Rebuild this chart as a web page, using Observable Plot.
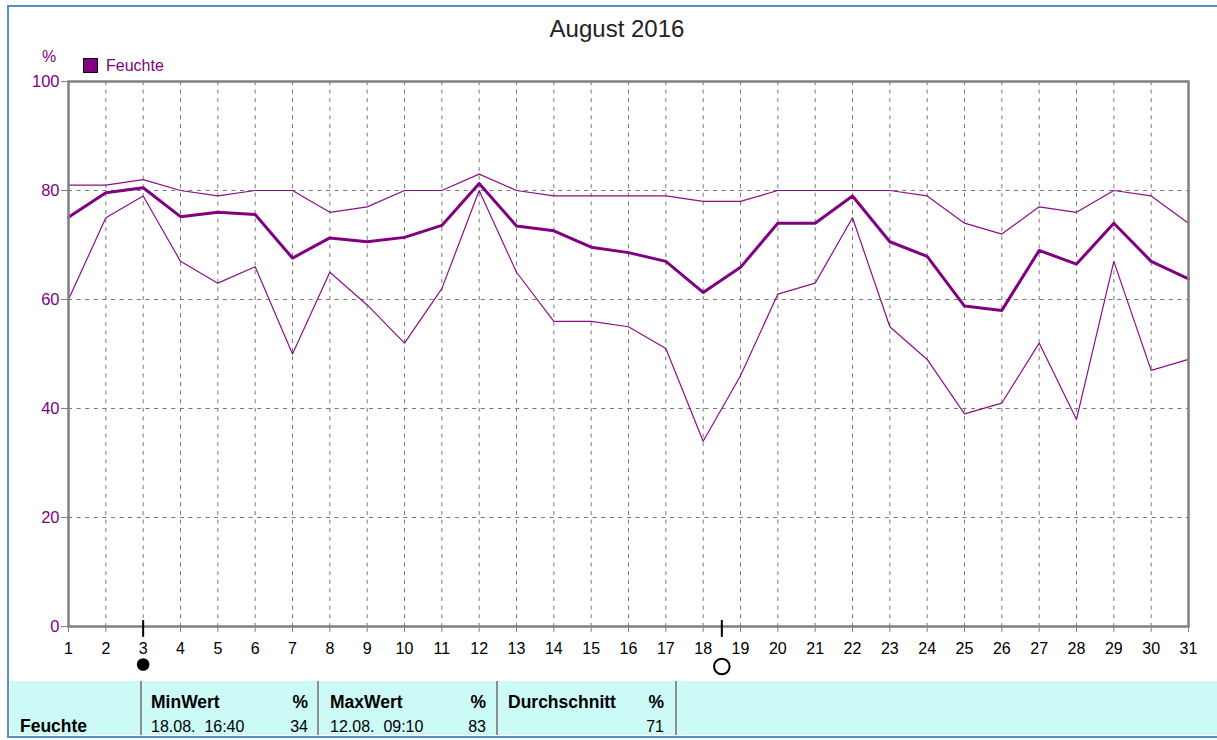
<!DOCTYPE html>
<html><head><meta charset="utf-8">
<script src="https://cdn.jsdelivr.net/npm/d3@7"></script>
<script src="https://cdn.jsdelivr.net/npm/@observablehq/plot@0.6"></script>
<style>
html,body{margin:0;padding:0;background:#fff;overflow:hidden;}
body{width:1217px;height:740px;position:relative;font-family:"Liberation Sans",Arial,sans-serif;}
.abs{position:absolute;white-space:pre;line-height:1;}
#chart{position:absolute;left:0;top:0;}
#band{position:absolute;left:10px;top:681px;width:1220px;height:54px;background:#ccfaf7;}
.sep{position:absolute;top:681px;height:54px;width:2px;background:#8e8e8e;}
#border{position:absolute;left:7px;top:5px;width:1300px;height:733px;border:2px solid #5a8cc8;box-sizing:border-box;pointer-events:none;}
</style></head><body>
<div id="band"></div>
<div id="chart"></div>
<div id="border"></div>
<script>
// ---- data ----
const days = [1,2,3,4,5,6,7,8,9,10,11,12,13,14,15,16,17,18,19,20,21,22,23,24,25,26,27,28,29,30,31];
const maxVals = [81,81,82,80,79,80,80,76,77,80,80,83,80,79,79,79,79,78,78,80,80,80,80,79,74,72,77,76,80,79,74];
const avgVals = [75.1,79.6,80.5,75.2,76.0,75.6,67.6,71.3,70.6,71.4,73.6,81.3,73.5,72.6,69.6,68.6,67.0,61.3,65.9,74.0,74.0,79.0,70.6,67.9,58.8,58.0,69.0,66.5,74.0,67.0,63.8];
const minVals = [60,75,79,67,63,66,50,65,59,52,62,80,65,56,56,55,51,34,46,61,63,75,55,49,39,41,52,38,67,47,49];
const yTicks = [0,20,40,60,80,100];
const gridDays = [2,3,4,5,6,7,8,9,10,11,12,13,14,15,16,17,18,19,20,21,22,23,24,25,26,27,28,29,30];
const gridValues = [20,40,60,80];
const moonDays = [3.0, 18.5];
const moonPhases = ["Neumond","Vollmond"];
const title = "August 2016";
const seriesName = "Feuchte";
const unit = "%";
const statNames = ["MinWert","MaxWert","Durchschnitt"];
const statTimes = ["18.08.  16:40","12.08.  09:10",""];
const statValues = [34,83,71];

const purple = "#800080";
const gray = "#808080";

const chart = Plot.plot({
  width: 1217, height: 680,
  marginLeft: 68, marginRight: 29, marginTop: 81, marginBottom: 54,
  style: {fontFamily: "'Liberation Sans', Arial, sans-serif", fontSize: "16px", background: "transparent", overflow: "visible"},
  x: {domain: [1, 31]},
  y: {domain: [0, 100]},
  marks: [
    Plot.gridX(gridDays, {stroke: "#777", strokeOpacity: 1, strokeWidth: 1, strokeDasharray: "4,4.6"}),
    Plot.gridY(gridValues, {stroke: "#777", strokeOpacity: 1, strokeWidth: 1, strokeDasharray: "4,4.6"}),
    Plot.line(days, {x: d => d, y: (d, i) => maxVals[i], stroke: "#8a0f8a", strokeWidth: 1.2}),
    Plot.line(days, {x: d => d, y: (d, i) => minVals[i], stroke: "#8a0f8a", strokeWidth: 1.2}),
    Plot.line(days, {x: d => d, y: (d, i) => avgVals[i], stroke: purple, strokeWidth: 3, strokeLinejoin: "round"}),
    Plot.frame({stroke: gray, strokeWidth: 2.5}),
    Plot.axisX({ticks: days, tickSize: 6, tickPadding: 10, stroke: gray, fill: "#000", fontSize: 16, tickFormat: d => String(d), label: null}),
    Plot.axisY({ticks: yTicks, tickSize: 7, tickPadding: 2, stroke: gray, fill: purple, fontSize: 16.5, tickFormat: d => String(d), label: null}),
    Plot.ruleX(moonDays, {x: d => d, y1: -2, y2: 1.1, stroke: "#000", strokeWidth: 2}),
    Plot.dot(moonDays.filter((d, i) => moonPhases[i] === "Neumond"), {x: d => d, frameAnchor: "bottom", dy: 38, r: 6.3, fill: "#000", stroke: "none"}),
    Plot.dot(moonDays.filter((d, i) => moonPhases[i] === "Vollmond"), {x: d => d, frameAnchor: "bottom", dy: 40, r: 7.8, fill: "#fff", stroke: "#000", strokeWidth: 2})
  ]
});
document.getElementById("chart").appendChild(chart);
chart.querySelectorAll('g[aria-label*="x-axis"] text').forEach(t => t.style.fontSize = "16px");
chart.querySelectorAll('g[aria-label*="y-axis"] text').forEach(t => t.style.fontSize = "16.5px");

// ---- html text helpers ----
function txt(str, o) {
  const d = document.createElement("div");
  d.className = "abs";
  d.textContent = str;
  const fs = o.size || 16;
  d.style.fontSize = fs + "px";
  if (o.bold) d.style.fontWeight = "bold";
  d.style.color = o.color || "#000";
  d.style.top = (o.baseline - 0.8465 * fs) + "px";
  if (o.left != null) d.style.left = o.left + "px";
  if (o.right != null) d.style.right = (1217 - o.right) + "px";
  if (o.center != null) { d.style.left = o.center + "px"; d.style.transform = "translateX(-50%)"; }
  if (o.spacing) d.style.letterSpacing = o.spacing + "px";
  document.body.appendChild(d);
  return d;
}

// title
txt(title, {center: 617, baseline: 37.5, size: 24, color: "#222"});
// unit
txt(unit, {left: 42, baseline: 63, size: 16, color: purple});
// legend
const sw = document.createElement("div");
sw.style.cssText = "position:absolute;left:83px;top:58px;width:13px;height:13px;background:" + purple + ";border:1px solid #000;";
document.body.appendChild(sw);
txt(seriesName, {left: 106, baseline: 71.5, size: 16, color: purple});

// table
const sepX = [141, 318, 497, 676];
sepX.forEach(x => {
  const s = document.createElement("div");
  s.className = "sep";
  s.style.left = (x - 1) + "px";
  document.body.appendChild(s);
});
const colLeft = [151, 330, 508];
const colRight = [308, 486, 664];
txt(seriesName, {left: 20, baseline: 733, size: 17.5, bold: true});
statNames.forEach((n, i) => {
  txt(n, {left: colLeft[i], baseline: 709, size: 17.5, bold: true});
  txt(unit, {right: colRight[i], baseline: 709, size: 17.5, bold: true});
  if (statTimes[i]) txt(statTimes[i], {left: colLeft[i], baseline: 733, size: 16});
  txt(String(statValues[i]), {right: colRight[i], baseline: 733, size: 16});
});
</script>
</body></html>
